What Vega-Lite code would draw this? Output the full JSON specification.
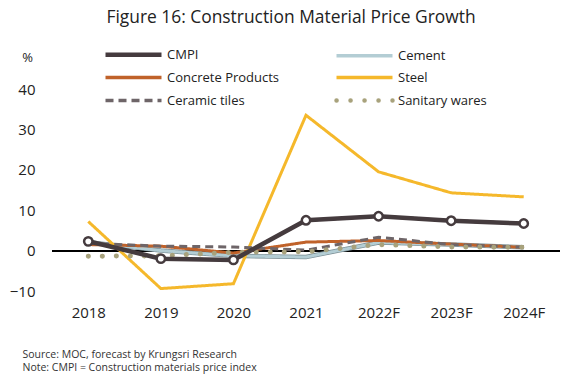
{
  "$schema": "https://vega.github.io/schema/vega-lite/v6.json",
  "width": 508,
  "height": 202,
  "autosize": {"type": "none"},
  "padding": {"left": 52, "top": 89, "right": 11, "bottom": 92},
  "background": "white",
  "config": {"font": "Open Sans", "view": {"stroke": null}},
  "title": {
    "text": "Figure 16: Construction Material Price Growth",
    "fontSize": 17.4,
    "fontWeight": "normal",
    "color": "#222222",
    "anchor": "middle",
    "frame": "group",
    "dx": -15,
    "offset": 22
  },
  "data": {
    "values": [
      {"year": "2018", "series": "CMPI", "value": 2.3},
      {"year": "2019", "series": "CMPI", "value": -2.0},
      {"year": "2020", "series": "CMPI", "value": -2.3},
      {"year": "2021", "series": "CMPI", "value": 7.5},
      {"year": "2022F", "series": "CMPI", "value": 8.5},
      {"year": "2023F", "series": "CMPI", "value": 7.4},
      {"year": "2024F", "series": "CMPI", "value": 6.7},
      {"year": "2018", "series": "Cement", "value": 2.1},
      {"year": "2019", "series": "Cement", "value": 0.0},
      {"year": "2020", "series": "Cement", "value": -1.3},
      {"year": "2021", "series": "Cement", "value": -1.6},
      {"year": "2022F", "series": "Cement", "value": 2.0},
      {"year": "2023F", "series": "Cement", "value": 1.5},
      {"year": "2024F", "series": "Cement", "value": 0.8},
      {"year": "2018", "series": "Concrete Products", "value": 1.5},
      {"year": "2019", "series": "Concrete Products", "value": 1.1},
      {"year": "2020", "series": "Concrete Products", "value": -0.6},
      {"year": "2021", "series": "Concrete Products", "value": 2.1},
      {"year": "2022F", "series": "Concrete Products", "value": 2.5},
      {"year": "2023F", "series": "Concrete Products", "value": 1.6},
      {"year": "2024F", "series": "Concrete Products", "value": 0.8},
      {"year": "2018", "series": "Steel", "value": 7.2},
      {"year": "2019", "series": "Steel", "value": -9.4},
      {"year": "2020", "series": "Steel", "value": -8.2},
      {"year": "2021", "series": "Steel", "value": 33.5},
      {"year": "2022F", "series": "Steel", "value": 19.5},
      {"year": "2023F", "series": "Steel", "value": 14.3},
      {"year": "2024F", "series": "Steel", "value": 13.3},
      {"year": "2018", "series": "Ceramic tiles", "value": 1.8},
      {"year": "2019", "series": "Ceramic tiles", "value": 1.1},
      {"year": "2020", "series": "Ceramic tiles", "value": 0.9},
      {"year": "2021", "series": "Ceramic tiles", "value": 0.1},
      {"year": "2022F", "series": "Ceramic tiles", "value": 3.3},
      {"year": "2023F", "series": "Ceramic tiles", "value": 1.5},
      {"year": "2024F", "series": "Ceramic tiles", "value": 0.8},
      {"year": "2018", "series": "Sanitary wares", "value": -1.4},
      {"year": "2019", "series": "Sanitary wares", "value": -1.3},
      {"year": "2020", "series": "Sanitary wares", "value": -0.4},
      {"year": "2021", "series": "Sanitary wares", "value": -0.3},
      {"year": "2022F", "series": "Sanitary wares", "value": 1.5},
      {"year": "2023F", "series": "Sanitary wares", "value": 0.9},
      {"year": "2024F", "series": "Sanitary wares", "value": 0.8}
    ]
  },
  "encoding": {
    "x": {
      "field": "year",
      "type": "ordinal",
      "scale": {"type": "point", "padding": 0.5},
      "axis": {
        "title": ["Source: MOC, forecast by Krungsri Research", "Note: CMPI = Construction materials price index"],
        "titleFontSize": 10.5,
        "titleFontWeight": "normal",
        "titleColor": "#333333",
        "titleAnchor": "start",
        "titleAlign": "left",
        "titleBaseline": "top",
        "titleLineHeight": 13.5,
        "titleX": -30,
        "titleY": 58,
        "labelAngle": 0,
        "labelFontSize": 15,
        "labelColor": "#222222",
        "labelPadding": 14,
        "domain": false,
        "ticks": false,
        "grid": false
      }
    },
    "y": {
      "field": "value",
      "type": "quantitative",
      "scale": {"domain": [-10, 40], "nice": false},
      "axis": {
        "title": "%",
        "titleAngle": 0,
        "titleFontSize": 13,
        "titleFontWeight": "normal",
        "titleColor": "#222222",
        "titleX": -25,
        "titleY": -31.5,
        "titleAlign": "center",
        "titleBaseline": "middle",
        "values": [-10, 0, 10, 20, 30, 40],
        "labelFontSize": 15,
        "labelColor": "#222222",
        "labelPadding": 17,
        "domain": false,
        "ticks": false,
        "grid": false
      }
    }
  },
  "layer": [
    {
      "mark": {"type": "rule", "color": "#000000", "strokeWidth": 1},
      "encoding": {"y": {"datum": 0}, "x": null}
    },
    {
      "transform": [{"filter": "datum.series === 'Cement'"}],
      "mark": {"type": "line", "stroke": "#7d9197", "strokeWidth": 4.5}
    },
    {
      "transform": [{"filter": "datum.series !== 'Sanitary wares'"}],
      "mark": {"type": "line", "strokeWidth": 3, "strokeCap": "butt"},
      "encoding": {
        "color": {
          "field": "series",
          "type": "nominal",
          "sort": ["CMPI", "Cement", "Concrete Products", "Steel", "Ceramic tiles", "Sanitary wares"],
          "scale": {
            "domain": ["CMPI", "Cement", "Concrete Products", "Steel", "Ceramic tiles", "Sanitary wares"],
            "range": ["#453b3e", "#b3cdd4", "#c0622a", "#f5b82b", "#6e6568", "#a8a27c"]
          },
          "legend": {
            "title": null,
            "orient": "none",
            "legendX": 75,
            "legendY": -41,
            "direction": "horizontal",
            "columns": 2,
            "columnPadding": 47,
            "rowPadding": 6,
            "symbolType": "stroke",
            "symbolSize": 3136,
            "symbolStrokeWidth": 3.5,
            "labelFontSize": 13,
            "labelColor": "#222222",
            "labelOffset": 27,
            "labelLimit": 200,
            "encode": {
              "symbols": {
                "update": {
                  "strokeCap": {"signal": "datum.value === 'Sanitary wares' ? 'round' : 'butt'"},
                  "strokeWidth": {"signal": "datum.value === 'CMPI' ? 4.5 : datum.value === 'Sanitary wares' ? 4.5 : 3.5"}
                }
              }
            }
          }
        },
        "strokeDash": {
          "field": "series",
          "type": "nominal",
          "scale": {
            "domain": ["CMPI", "Cement", "Concrete Products", "Steel", "Ceramic tiles", "Sanitary wares"],
            "range": [[1, 0], [1, 0], [1, 0], [1, 0], [8, 5], [0.1, 13.9]]
          }
        }
      }
    },
    {
      "transform": [{"filter": "datum.series === 'Sanitary wares'"}],
      "mark": {"type": "line", "strokeWidth": 5, "strokeCap": "round"},
      "encoding": {
        "color": {"field": "series", "type": "nominal"},
        "strokeDash": {"field": "series", "type": "nominal"}
      }
    },
    {
      "transform": [{"filter": "datum.series === 'CMPI'"}],
      "mark": {"type": "line", "stroke": "#453b3e", "strokeWidth": 4.5}
    },
    {
      "transform": [{"filter": "datum.series === 'CMPI'"}],
      "mark": {"type": "point", "shape": "circle", "filled": true, "fill": "white", "stroke": "#453b3e", "strokeWidth": 2.5, "size": 70, "opacity": 1}
    }
  ]
}
